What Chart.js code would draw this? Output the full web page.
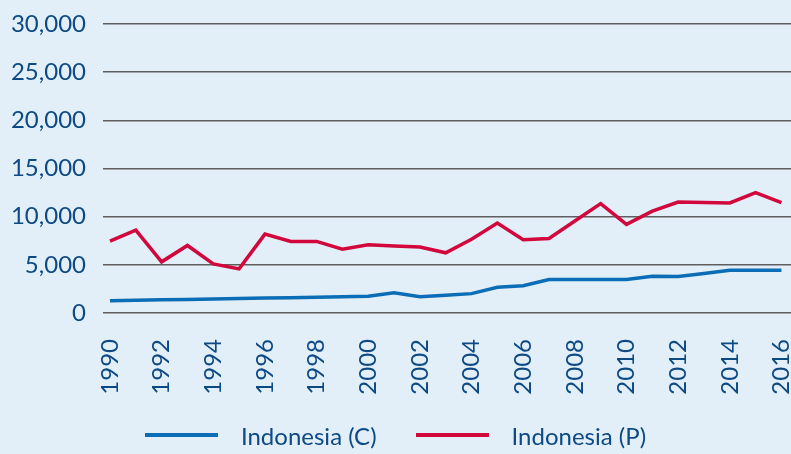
<!DOCTYPE html>
<html>
<head>
<meta charset="utf-8">
<script src="https://cdn.jsdelivr.net/npm/chart.js@4.4.0/dist/chart.umd.min.js"></script>
<style>
  html, body { margin: 0; padding: 0; background: #e2eff9; }
  #wrap { position: relative; width: 791px; height: 454px; background: #e2eff9; overflow: hidden; }
  canvas { display: block; }
  #legend { position: absolute; left: 0; width: 791px; top: 419px; height: 32px;
            display: flex; justify-content: center; align-items: center;
            font-family: Lato, "Open Sans", sans-serif; font-size: 24px; color: #0d4a84; }
  .item { display: flex; align-items: center; }
  .item + .item { margin-left: 39px; }
  .swatch { width: 73px; height: 3.5px; margin-right: 23px; }
</style>
</head>
<body>
<div id="wrap">
  <canvas id="c" width="791" height="454"></canvas>
  <div id="legend"></div>
</div>
<script>
// ---- data ----
const years = [1990,1991,1992,1993,1994,1995,1996,1997,1998,1999,2000,2001,2002,2003,2004,2005,2006,2007,2008,2009,2010,2011,2012,2013,2014,2015,2016];
const indonesiaC = [1280,1320,1370,1410,1460,1500,1550,1590,1640,1680,1730,2110,1700,1850,2010,2670,2840,3470,3470,3470,3470,3810,3780,4100,4440,4440,4440];
const indonesiaP = [7450,8600,5310,7010,5100,4580,8190,7430,7430,6630,7080,6960,6840,6250,7650,9330,7600,7740,9550,11350,9200,10580,11520,11480,11420,12500,11460];
const xTickLabels = [1990,1992,1994,1996,1998,2000,2002,2004,2006,2008,2010,2012,2014,2016];
const yTickValues = [0,5000,10000,15000,20000,25000,30000];
const seriesNames = ['Indonesia (C)','Indonesia (P)'];

// ---- styles ----
const textColor = '#0d4a84';
const colorC = '#0b6db5';
const colorP = '#d2083c';
const font = { family: 'Lato, "Open Sans", sans-serif', size: 24 };

const toPoints = arr => years.map((yr, i) => ({ x: yr, y: arr[i] }));
const noPad = s => { s.paddingLeft = 0; s.paddingRight = 0; s.paddingTop = 0; s.paddingBottom = 0; };

const chart = new Chart(document.getElementById('c'), {
  type: 'line',
  data: {
    datasets: [
      { label: seriesNames[0], data: toPoints(indonesiaC), borderColor: colorC, backgroundColor: colorC,
        borderWidth: 3.5, pointRadius: 0, tension: 0, fill: false },
      { label: seriesNames[1], data: toPoints(indonesiaP), borderColor: colorP, backgroundColor: colorP,
        borderWidth: 3.5, pointRadius: 0, tension: 0, fill: false }
    ]
  },
  options: {
    responsive: false,
    animation: false,
    devicePixelRatio: 1,
    layout: { padding: { top: 24, right: 0, bottom: 0, left: 0 } },
    plugins: { legend: { display: false }, tooltip: { enabled: false } },
    scales: {
      x: {
        type: 'linear',
        min: 1989.73,
        max: 2016.37,
        grid: { display: false },
        border: { display: false },
        afterBuildTicks: s => { s.ticks = xTickLabels.map(v => ({ value: v })); },
        afterFit: s => { s.height = 141; noPad(s); },
        ticks: {
          autoSkip: false, minRotation: 90, maxRotation: 90, padding: 18,
          color: textColor, font: font,
          callback: v => String(v)
        }
      },
      y: {
        min: 0,
        max: 30000,
        afterBuildTicks: s => { s.ticks = yTickValues.map(v => ({ value: v })); },
        afterFit: s => { s.width = 103; noPad(s); },
        grid: { color: '#5e5e5e', lineWidth: 1.5, drawTicks: false },
        border: { display: false },
        ticks: {
          padding: 17, color: textColor, font: font,
          callback: v => Number(v).toLocaleString('en-US')
        }
      }
    }
  }
});

// ---- legend (built from dataset info) ----
const legend = document.getElementById('legend');
chart.data.datasets.forEach(ds => {
  const item = document.createElement('div');
  item.className = 'item';
  const sw = document.createElement('span');
  sw.className = 'swatch';
  sw.style.background = ds.borderColor;
  const tx = document.createElement('span');
  tx.textContent = ds.label;
  item.appendChild(sw);
  item.appendChild(tx);
  legend.appendChild(item);
});
</script>
</body>
</html>
